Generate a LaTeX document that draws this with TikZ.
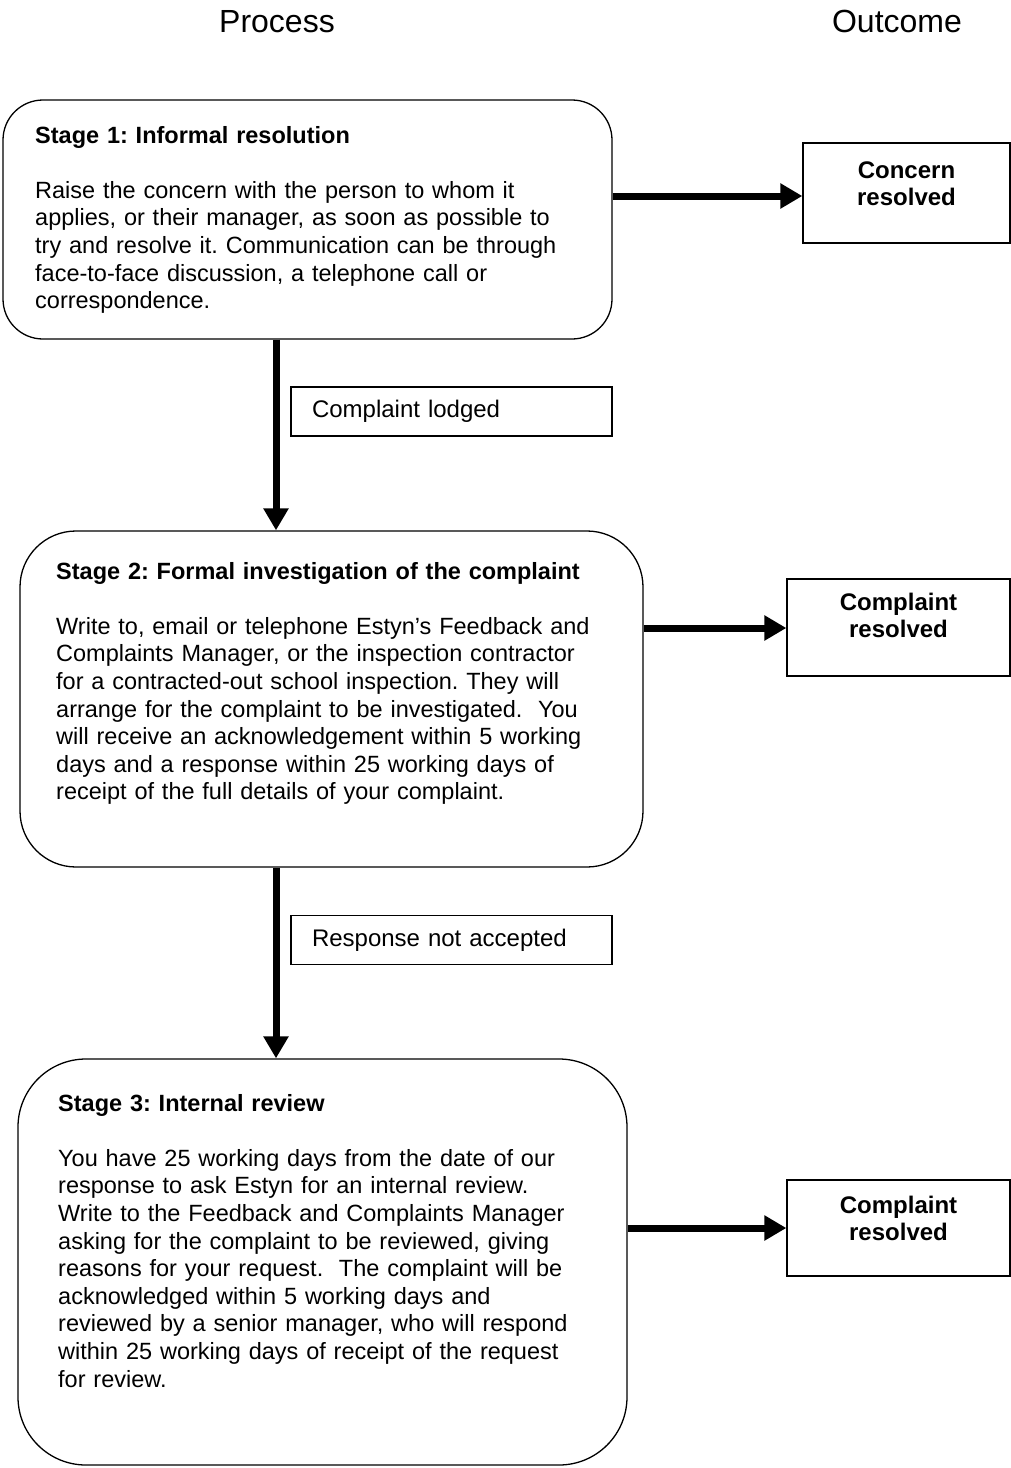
\documentclass[tikz,border=0pt]{standalone}
\usepackage{fontspec}
\setmainfont{Liberation Sans}
\usetikzlibrary{arrows.meta}
\frenchspacing
\begin{document}
\begin{tikzpicture}[x=1pt,y=-1pt,
  stagebox/.style={draw, line width=1.3pt, inner sep=0pt, rectangle},
  outbox/.style={draw, line width=1.3pt, inner sep=0pt, rectangle},
  lblbox/.style={draw, line width=1.3pt, rectangle, inner xsep=21pt, inner ysep=0pt,
    minimum height=49pt, text width=279pt, align=left,
    font=\fontsize{24}{27.6}\selectfont\frenchspacing},
  bodytext/.style={inner sep=0pt, anchor=base west, text width=590pt, align=left,
    font=\fontsize{23.5}{27.6}\selectfont\frenchspacing},
  outtext/.style={inner sep=0pt, anchor=base, text width=200pt, align=center,
    font=\fontsize{24}{27.6}\selectfont\bfseries},
  headtext/.style={inner sep=0pt, anchor=base, font=\fontsize{32}{38}\selectfont},
  arr/.style={line width=7pt, -{Triangle[length=22pt,width=24pt]}}]
\useasboundingbox (0,0) rectangle (1011,1468);

% headers
\node[headtext] (hp) at (277,32) {Process};
\node[headtext] (ho) at (897,32) {Outcome};

% stage boxes
\node[stagebox, rounded corners=40pt, minimum width=609pt, minimum height=239pt] (s1) at (307.5,219.5) {};
\node[stagebox, rounded corners=56pt, minimum width=623pt, minimum height=336pt] (s2) at (331.5,699) {};
\node[stagebox, rounded corners=68pt, minimum width=609pt, minimum height=406pt] (s3) at (322.5,1262) {};

\node[bodytext] (t1) at (35,143) {\textbf{Stage 1: Informal resolution}\\[27.6pt]
Raise the concern with the person to whom it\\
applies, or their manager, as soon as possible to\\
try and resolve it. Communication can be through\\
face-to-face discussion, a telephone call or\\
correspondence.};

\node[bodytext] (t2) at (56,579) {\textbf{Stage 2: Formal investigation of the complaint}\\[27.6pt]
Write to, email or telephone Estyn’s Feedback and\\
Complaints Manager, or the inspection contractor\\
for a contracted-out school inspection. They will\\
arrange for the complaint to be investigated.\ \ You\\
will receive an acknowledgement within 5 working\\
days and a response within 25 working days of\\
receipt of the full details of your complaint.};

\node[bodytext] (t3) at (58,1111) {\textbf{Stage 3: Internal review}\\[27.6pt]
You have 25 working days from the date of our\\
response to ask Estyn for an internal review.\\
Write to the Feedback and Complaints Manager\\
asking for the complaint to be reviewed, giving\\
reasons for your request.\ \ The complaint will be\\
acknowledged within 5 working days and\\
reviewed by a senior manager, who will respond\\
within 25 working days of receipt of the request\\
for review.};

% outcome boxes
\node[outbox, minimum width=207pt, minimum height=100pt] (c1) at (906.5,193) {};
\node[outbox, minimum width=223pt, minimum height=97pt] (c2) at (898.5,627.5) {};
\node[outbox, minimum width=223pt, minimum height=96pt] (c3) at (898.5,1228) {};
\node[outtext] (c1t) at ([yshift=-36pt]c1.north) {Concern\\resolved};
\node[outtext] (c2t) at ([yshift=-32pt]c2.north) {Complaint\\resolved};
\node[outtext] (c3t) at ([yshift=-34pt]c3.north) {Complaint\\resolved};

% labels on the vertical connectors
\node[lblbox] (l1) at (451.5,411.5) {Complaint lodged};
\node[lblbox] (l2) at (451.5,940) {Response not accepted};

% connector guide coordinates
\coordinate (a1) at (803,196);
\coordinate (a2) at (787,628);
\coordinate (a3) at (787,1228);
\coordinate (vx) at (276,0);

% connectors
\draw[arr] (s1.east |- a1) -- (c1.west |- a1);
\draw[arr] (s2.east |- a2) -- (c2.west |- a2);
\draw[arr] (s3.east |- a3) -- (c3.west |- a3);
\draw[arr] (s1.south -| vx) -- (s2.north -| vx);
\draw[arr] (s2.south -| vx) -- (s3.north -| vx);
\end{tikzpicture}
\end{document}
